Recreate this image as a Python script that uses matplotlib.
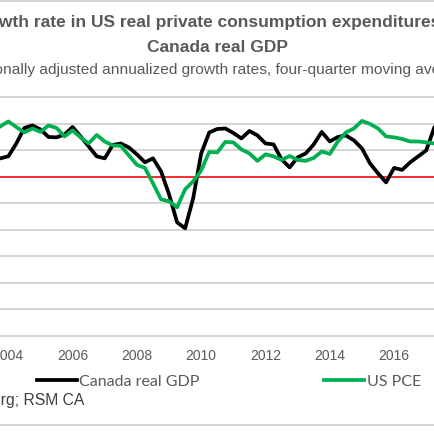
import numpy as np
import matplotlib
matplotlib.use("Agg")
import matplotlib.pyplot as plt
from matplotlib.lines import Line2D

# quarterly, four-quarter moving average, % (first point 2003Q4)
start_year = 2003.75
canada_gdp = [1.38, 1.53, 2.50, 3.67, 3.86, 3.56, 2.99, 2.96, 3.18, 3.74,
              3.03, 2.28, 1.53, 1.38, 2.39, 2.50, 2.20, 1.68, 1.08, 1.38,
              0.40, -1.33, -3.44, -3.89, -1.63, 1.75, 3.33, 3.59, 3.63, 3.29,
              2.88, 3.44, 3.11, 2.50, 2.43, 1.30, 0.70, 1.45, 1.75, 2.43,
              3.37, 2.65, 2.99, 3.11, 2.73, 2.13, 1.00, 0.25, -0.43, 0.66,
              0.51, 1.08, 1.53, 1.98, 3.71, 4.40]
us_pce = [3.78, 4.16, 3.74, 3.33, 3.63, 3.37, 3.86, 3.67, 3.03, 3.48,
          2.96, 2.50, 3.14, 2.65, 2.35, 2.32, 1.60, 0.89, 0.66, -0.50,
          -1.71, -1.86, -2.31, -0.95, -0.35, 0.47, 1.86, 1.83, 2.62, 2.58,
          2.05, 1.75, 1.19, 1.68, 1.53, 1.26, 1.56, 1.26, 1.19, 1.41,
          1.90, 1.71, 2.65, 3.33, 3.63, 4.20, 3.97, 3.63, 3.03, 2.96,
          2.84, 2.65, 2.65, 2.58, 2.50, 2.42]
year_ticks = [2004, 2006, 2008, 2010, 2012, 2014, 2016]
y_grid = np.arange(-12, 7, 2)

quarters = start_year + np.arange(len(canada_gdp)) / 4.0

W, H = 435, 435
fig = plt.figure(figsize=(W / 100, H / 100), dpi=100)
fig.patch.set_facecolor("white")

ax = fig.add_axes([0, 1 - 337 / H, 1, (337 - 98) / H])
for g in y_grid:
    ax.axhline(g, color="#d4d4d4", lw=1.4, zorder=1, clip_on=False)
ax.plot(quarters, canada_gdp, color="black", lw=2.7, zorder=3)
ax.plot(quarters, us_pce, color="#00b050", lw=2.7, zorder=3)
ax.axhline(0, color="#ff0000", lw=1.1, zorder=2)

ax.set_xlim(2003.742, 2017.272)
ax.set_ylim(-12, 6)
ax.set_yticks([])
ax.set_xticks(year_ticks)
ax.set_xticklabels([str(y) for y in year_ticks], fontsize=10,
                   color="#595959", family="Liberation Sans")
ax.tick_params(length=0, pad=9)
for s in ax.spines.values():
    s.set_visible(False)

fig.text(222 / W, 1 - 23 / H, "Growth rate in US real private consumption expenditures and",
         ha="center", va="center", fontsize=12.5, fontweight="bold",
         color="#595959", family="Liberation Sans")
fig.text(217.5 / W, 1 - 48 / H, "Canada real GDP", ha="center", va="center",
         fontsize=12.5, fontweight="bold", color="#595959", family="Liberation Sans")
fig.text(215 / W, 1 - 70 / H,
         "Seasonally adjusted annualized growth rates, four-quarter moving average",
         ha="center", va="center", fontsize=11.15, color="#595959",
         family="Liberation Sans")
fig.text(-120 / W, 1 - 401 / H, "Source: Bloomberg; RSM CA", ha="left",
         va="center", fontsize=11.3, color="#404040", family="Liberation Sans")

# chart border lines
for yy in (2, 426):
    fig.add_artist(Line2D([0, 1], [1 - yy / H, 1 - yy / H], color="#d4d4d4",
                          lw=1.4, transform=fig.transFigure))

handles = [Line2D([], [], color="black", lw=2.7),
           Line2D([], [], color="#00b050", lw=2.7)]
fig.legend(handles, ["Canada real GDP", "US PCE"], loc="center left",
           bbox_to_anchor=(37 / W, 1 - 382 / H), ncol=2, frameon=False,
           borderpad=0, borderaxespad=0, handlelength=2.5, handletextpad=0.15,
           columnspacing=7.8, prop={"family": "Lato", "size": 11.5},
           labelcolor="#595959")

fig.savefig("out.png", dpi=100, facecolor="white")
